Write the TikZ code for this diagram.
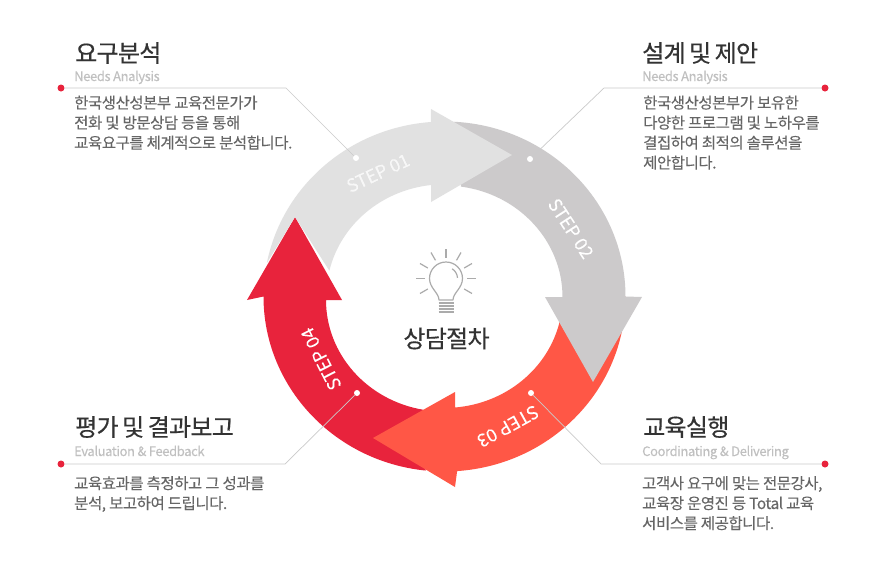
\documentclass[tikz,border=0pt]{standalone}
\usepackage{fontspec}
\setmainfont{Noto Sans CJK KR}
\newfontfamily\bodyfont[LetterSpace=-3,FakeBold=0.08]{Noto Sans CJK KR}
\newfontfamily\headfont[FakeBold=0.4,LetterSpace=-3,WordSpace=0.75]{Noto Sans CJK KR}
\newfontfamily\subfont[LetterSpace=-3,FakeBold=0.08]{Noto Sans CJK KR}
\newfontfamily\stepfont[FakeBold=0.08]{Noto Sans CJK KR}
\definecolor{cA}{HTML}{E1E1E1}
\definecolor{cB}{HTML}{CCCACB}
\definecolor{cC}{HTML}{FF5746}
\definecolor{cD}{HTML}{E8233C}
\definecolor{cLine}{HTML}{CBCBCB}
\definecolor{cBody}{HTML}{666666}
\definecolor{cHead}{HTML}{333333}
\definecolor{cSub}{HTML}{C0C0C0}
\definecolor{cBulb}{HTML}{ABABAB}
\tikzset{
  headtxt/.style={anchor=base west,inner sep=0pt,text=cHead,font=\headfont\fontsize{24}{24}\selectfont},
  subtxt/.style={anchor=base west,inner sep=0pt,text=cSub,font=\subfont\fontsize{13}{13}\selectfont},
  bodytxt/.style={anchor=base west,inner sep=0pt,text=cBody,font=\bodyfont\fontsize{15.5}{15.5}\selectfont},
  steptxt/.style={inner sep=0pt,text=white,font=\stepfont\fontsize{18}{18}\selectfont},
  reddot/.style={circle,fill=cD,inner sep=0pt,minimum size=7pt},
  whitedot/.style={circle,fill=white,inner sep=0pt,minimum size=6pt},
  conn/.style={draw=cLine,line width=0.7pt},
  ray/.style={draw=cBulb,line width=1.2pt},
  bulb/.style={draw=cBulb,line width=1.2pt,line join=round}
}
\begin{document}
\begin{tikzpicture}[x=1pt,y=-1pt]
\useasboundingbox (0,0) rectangle (887,571);
\fill[white] (0,0) rectangle (887,571);
\coordinate (c) at (444.5,296.5);
% step 04
\fill[cD] ([shift={(c)}]264:181pt and 175pt)
  arc[start angle=264,end angle=180,x radius=181pt,y radius=175pt]
  -- (247,300) -- (295,217) -- (342,300) -- (326,300)
  arc[start angle=180,end angle=260,x radius=118pt,y radius=111.5pt] -- cycle;
% step 03
\fill[cC] ([shift={(c)}]0:181pt and 175pt)
  arc[start angle=0,end angle=-86,x radius=181pt,y radius=175pt]
  -- (455,487) -- (373,438) -- (455,392) -- (455,407.5)
  arc[start angle=-85,end angle=-13,x radius=118pt,y radius=111.5pt] -- cycle;
% step 02
\fill[cB] ([shift={(c)}]87:181pt and 175pt)
  arc[start angle=87,end angle=0,x radius=181pt,y radius=175pt]
  -- (642,297) -- (593,382) -- (545,297) -- (562.5,297)
  arc[start angle=0,end angle=82,x radius=118pt,y radius=111.5pt] -- cycle;
% step 01
\fill[cA] ([shift={(c)}]169:181pt and 175pt)
  arc[start angle=169,end angle=94.3,x radius=181pt,y radius=175pt]
  -- (431,109) -- (512,155) -- (431,202) -- (431,185)
  arc[start angle=96.5,end angle=167,x radius=118pt,y radius=111.5pt]
  -- (295,217) -- cycle;
% step labels
\node[steptxt,rotate=25,opacity=0.75] (s1) at (378,173) {STEP 01};
\node[steptxt,rotate=-57] (s2) at (571,228.5) {STEP 02};
\node[steptxt,rotate=-151] (s3) at (508,426.5) {STEP 03};
\node[steptxt,rotate=117] (s4) at (321,359) {STEP 04};
% connectors
\node[reddot] (r1) at (61,88) {};
\node[reddot] (r2) at (825,88) {};
\node[reddot] (r3) at (825,464) {};
\node[reddot] (r4) at (61,464) {};
\node[whitedot] (w1) at (356,158) {};
\node[whitedot] (w2) at (530,159) {};
\node[whitedot] (w3) at (531,393) {};
\node[whitedot] (w4) at (357,393) {};
\coordinate (e1) at (286,88);
\coordinate (e2) at (604,88);
\coordinate (e3) at (601,464);
\coordinate (e4) at (285,464);
\path[conn] (r1) -- (e1) -- (w1);
\path[conn] (r2) -- (e2) -- (w2);
\path[conn] (r3) -- (e3) -- (w3);
\path[conn] (r4) -- (e4) -- (w4);
% bulb
\coordinate (b) at (446,278.5);
\foreach \a in {-30,0,30,60,90,120,150,180,210}
  \draw[ray] ([shift={(b)}]\a:21pt) -- ([shift={(b)}]\a:30pt);
\path[bulb] (439,300) .. controls (439,293) and (429.5,288) .. (429.5,278.5)
  arc[start angle=180,end angle=0,radius=16.5pt]
  .. controls (462.5,288) and (453,293) .. (453,300) -- cycle;
\path[bulb] ([shift={(b)}]58:11.5pt) arc[start angle=58,end angle=3,radius=11.5pt];
\foreach \y in {303,306,309,312}
  \draw[draw=cBulb,line width=1.1pt] (438.5,\y) -- (453.5,\y);
\node[inner sep=0pt,text=cHead,font=\headfont\fontsize{24}{24}\selectfont] (mid) at (446.5,338.5) {상담절차};
% top left
\node[headtxt] (t1) at (75,62) {요구분석};
\node[subtxt] (u1) at (74,81) {Needs Analysis};
\node[bodytxt] (a1) at (74,108.5) {한국생산성본부 교육전문가가};
\node[bodytxt] (a2) at (74,128.5) {전화 및 방문상담 등을 통해};
\node[bodytxt] (a3) at (74,148.5) {교육요구를 체계적으로 분석합니다.};
% top right
\node[headtxt] (t2) at (642,62) {설계 및 제안};
\node[subtxt] (u2) at (642,81) {Needs Analysis};
\node[bodytxt] (b1) at (643,108.5) {한국생산성본부가 보유한};
\node[bodytxt] (b2) at (643,128.5) {다양한 프로그램 및 노하우를};
\node[bodytxt] (b3) at (643,148.5) {결집하여 최적의 솔루션을};
\node[bodytxt] (b4) at (643,168.5) {제안합니다.};
% bottom left
\node[headtxt] (t4) at (75,436) {평가 및 결과보고};
\node[subtxt] (u4) at (74,456) {Evaluation \& Feedback};
\node[bodytxt] (d1) at (74,489) {교육효과를 측정하고 그 성과를};
\node[bodytxt] (d2) at (74,509) {분석, 보고하여 드립니다.};
% bottom right
\node[headtxt] (t3) at (643,436) {교육실행};
\node[subtxt] (u3) at (642,456) {Coordinating \& Delivering};
\node[bodytxt] (f1) at (642,489) {고객사 요구에 맞는 전문강사,};
\node[bodytxt] (f2) at (642,509) {교육장 운영진 등 Total 교육};
\node[bodytxt] (f3) at (642,529) {서비스를 제공합니다.};
\end{tikzpicture}
\end{document}
